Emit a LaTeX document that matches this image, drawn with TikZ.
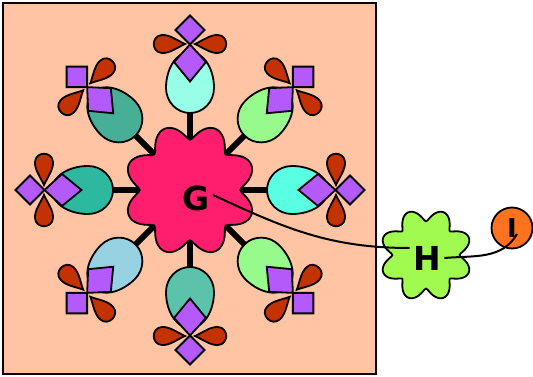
\documentclass[tikz,border=0pt]{standalone}
\usepackage{fontspec}
\setsansfont{DejaVu Sans}
\usepackage{tikz}
\usetikzlibrary{positioning,
				calc}
\definecolor{peach}{RGB}{255,196,164}
\definecolor{blobred}{RGB}{255,30,110}
\definecolor{hgreen}{RGB}{160,250,80}
\definecolor{iorange}{RGB}{255,115,30}
\definecolor{diapurple}{RGB}{180,90,250}
\definecolor{petalred}{RGB}{195,50,0}
\definecolor{eggA}{RGB}{90,255,225}
\definecolor{eggB}{RGB}{150,250,140}
\definecolor{eggC}{RGB}{150,255,230}
\definecolor{eggD}{RGB}{70,175,150}
\definecolor{eggE}{RGB}{45,185,160}
\definecolor{eggF}{RGB}{150,210,225}
\definecolor{eggG}{RGB}{90,195,170}
\tikzset{
  outl/.style={draw=black, line width=1.8pt},
  diam/.style={outl, fill=diapurple},
  petal/.style={outl, fill=petalred},
  stem/.style={line width=6pt},
  lab/.style={font=\sffamily\bfseries\fontsize{33}{33}\selectfont},
  link/.style={line width=2pt}
}

\begin{document}
\begin{tikzpicture}[x=1pt,y=1pt]
  \useasboundingbox (0,0) rectangle (533,376);
  \filldraw[fill=peach, draw=black, line width=2pt](3,2) rectangle (376,373);
  \coordinate (c) at (190,186);
  \foreach \a in {0,45,...,315}
    \draw[stem](c)--++(\a:80);
  \filldraw[outl, fill=blobred, shift={(c)}] plot[domain=0:357.5, samples=144, smooth cycle] (\x:{47+19*sqrt((sin(4*\x))^2+0.03)});
  \foreach \a/\col in {0/eggA,45/eggB,90/eggC,135/eggD,180/eggE,225/eggF,270/eggG,315/eggB}{
    \begin{scope}[shift={(c)}, rotate=\a]
      \filldraw[outl, fill=\col](102,24) arc[start angle=90, end angle=270, x radius=25, y radius=24]
        arc[start angle=-90, end angle=90, x radius=36, y radius=24] -- cycle;
      \foreach \s in {1,-1}
        \filldraw[petal, yscale=\s](146,5) .. controls (143,12) and (136.5,20) .. (137,28)
          .. controls (137.5,39) and (154.5,39) .. (155,28) .. controls (155.5,20) and (149,12) .. (146,5) -- cycle;
      \filldraw[diam](108.5,0)--(128,16)--(145.5,0)--(128,-16)--cycle;
      \filldraw[diam](145.5,0)--(160,14.5)--(174.5,0)--(160,-14.5)--cycle;
    \end{scope}
  }
  \node[lab] (g) at (196,178) {G};
  \filldraw[outl, fill=hgreen, shift={(426,121)}] plot[domain=0:357.5, samples=144, smooth cycle] (\x:{31+15*sqrt((sin(4*\x))^2+0.03)});
  \node[lab] (h) at (427,118) {H};
  \node[circle, outl, fill=iorange, minimum size=41pt, inner sep=0pt, font=\sffamily\bfseries\fontsize{26}{26}\selectfont] (i) at (512,148) {I};
  \coordinate (iend) at ($(i.center)+(5,-6)$);
  \draw[link](g.10) to[out=-25, in=180] (h.150);
  \draw[link](h.east) to[out=5, in=-120] (iend);
\end{tikzpicture}
\end{document}
